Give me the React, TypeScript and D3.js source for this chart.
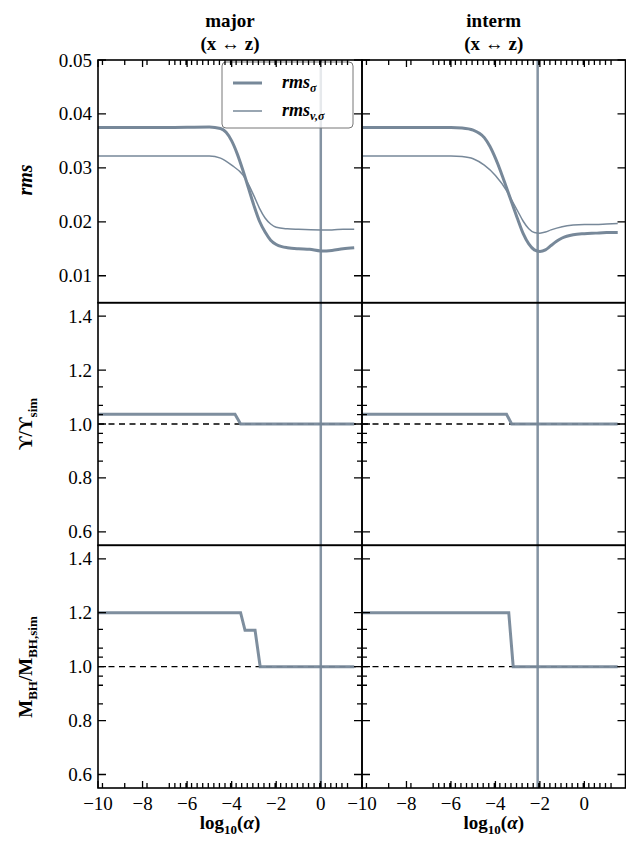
import React from "react";
import * as d3 from "d3";

// ---------- data ----------
const columnTitles = ["major", "interm"];
const columnSub = ["(x \u2194 z)", "(x \u2194 z)"];
const bestLogAlpha = [0, -2.1];

const xTickValues = [-10, -8, -6, -4, -2, 0];
const xTickLabels = ["\u221210", "\u22128", "\u22126", "\u22124", "\u22122", "0"];
const rmsTicks = [0.01, 0.02, 0.03, 0.04, 0.05];
const rmsTickLabels = ["0.01", "0.02", "0.03", "0.04", "0.05"];
const ratioTicks = [0.6, 0.8, 1.0, 1.2, 1.4];
const ratioTickLabels = ["0.6", "0.8", "1.0", "1.2", "1.4"];
const ratioMinorTicks = [0.862, 0.931, 0.965, 1.035, 1.069, 1.138];

// sampled log10(alpha) grid (minor ticks on top/bottom)
const alphaGrid = [-9.8, -8.8, -7.8, ...d3.range(-6.8, 1.21, 0.25)];

// top row: rms curves
const rmsSigmaX_major = [-10, -7, -5, -4.5, -4.25, -4.0, -3.75, -3.5, -3.25, -3.0, -2.75, -2.5, -2.25, -2.0, -1.75, -1.5, -1.0, -0.5, 0, 0.5, 1.0, 1.5];
const rmsSigmaY_major = [0.0375, 0.0375, 0.0376, 0.0373, 0.0366, 0.0350, 0.0326, 0.0296, 0.0263, 0.0230, 0.0201, 0.0181, 0.0166, 0.0158, 0.0154, 0.0152, 0.0150, 0.0149, 0.0146, 0.0147, 0.0150, 0.0152];
const rmsVX_major = [-10, -5, -4.5, -4.0, -3.5, -3.25, -3.0, -2.75, -2.5, -2.25, -2.0, -1.5, -1.0, 0, 0.5, 1.0, 1.5];
const rmsVY_major = [0.0322, 0.0322, 0.0318, 0.0305, 0.0287, 0.0270, 0.0248, 0.0225, 0.0207, 0.0196, 0.0190, 0.0187, 0.0186, 0.0185, 0.0185, 0.0186, 0.0186];

const rmsSigmaX_interm = [-10, -6, -5.5, -5.0, -4.5, -4.25, -4.0, -3.75, -3.5, -3.25, -3.0, -2.75, -2.5, -2.25, -2.0, -1.75, -1.5, -1.25, -1.0, -0.5, 0, 0.5, 1.0, 1.5];
const rmsSigmaY_interm = [0.0375, 0.0375, 0.0374, 0.0370, 0.0356, 0.0340, 0.0318, 0.0292, 0.0263, 0.0234, 0.0205, 0.0178, 0.0159, 0.0148, 0.0145, 0.0148, 0.0156, 0.0164, 0.0170, 0.0176, 0.0178, 0.0179, 0.0180, 0.0180];
const rmsVX_interm = [-10, -6, -5.5, -5.0, -4.5, -4.0, -3.5, -3.25, -3.0, -2.75, -2.5, -2.25, -2.0, -1.75, -1.5, -1.0, -0.5, 0, 0.5, 1.0, 1.5];
const rmsVY_interm = [0.0322, 0.0322, 0.0321, 0.0317, 0.0305, 0.0286, 0.0258, 0.0239, 0.0220, 0.0201, 0.0187, 0.0180, 0.0179, 0.0181, 0.0185, 0.0191, 0.0194, 0.0195, 0.0195, 0.0196, 0.0197];

// middle row: Upsilon ratio
const upsX_major = [-10, -3.85, -3.6, 1.5];
const upsY_major = [1.036, 1.036, 1.0, 1.0];
const upsX_interm = [-10, -3.5, -3.27, 1.5];
const upsY_interm = [1.036, 1.036, 1.0, 1.0];

// bottom row: M_BH ratio
const mbhX_major = [-10, -3.6, -3.4, -2.95, -2.72, 1.5];
const mbhY_major = [1.2, 1.2, 1.135, 1.135, 1.0, 1.0];
const mbhX_interm = [-10, -3.4, -3.2, 1.5];
const mbhY_interm = [1.2, 1.2, 1.0, 1.0];

// ---------- layout ----------
const COLOR = "#778899";
const FONT = "Liberation Serif, DejaVu Serif, serif";
const colX: [number, number][] = [[98, 362], [362, 625.5]];
const rowY: [number, number][] = [[60, 302.7], [302.7, 545.3], [545.3, 788]];
const xDomain: [number, number] = [-10, 1.85];
const rmsDomain: [number, number] = [0.005, 0.05];
const ratioDomain: [number, number] = [0.55, 1.45];

function zip(xs: number[], ys: number[]): [number, number][] {
  return xs.map((x, i) => [x, ys[i]]);
}

const txt = (size: number, extra: React.CSSProperties = {}): React.CSSProperties => ({
  fontFamily: FONT,
  fontSize: size,
  ...extra,
});

export default function App() {
  const xs = colX.map((c) => d3.scaleLinear().domain(xDomain).range(c));
  const ysTop = d3.scaleLinear().domain(rmsDomain).range([rowY[0][1], rowY[0][0]]);
  const ysMid = d3.scaleLinear().domain(ratioDomain).range([rowY[1][1], rowY[1][0]]);
  const ysBot = d3.scaleLinear().domain(ratioDomain).range([rowY[2][1], rowY[2][0]]);

  const topSeries = [
    { s: zip(rmsSigmaX_major, rmsSigmaY_major), v: zip(rmsVX_major, rmsVY_major) },
    { s: zip(rmsSigmaX_interm, rmsSigmaY_interm), v: zip(rmsVX_interm, rmsVY_interm) },
  ];
  const midSeries = [zip(upsX_major, upsY_major), zip(upsX_interm, upsY_interm)];
  const botSeries = [zip(mbhX_major, mbhY_major), zip(mbhX_interm, mbhY_interm)];

  const panels: any[] = [];
  const labels: any[] = [];
  const tickSegs: string[] = [];

  [0, 1].forEach((ci) => {
    const x = xs[ci];
    const [x0, x1] = colX[ci];
    const smooth = (y: any) =>
      d3.line<[number, number]>().x((d) => x(d[0])).y((d) => y(d[1])).curve(d3.curveMonotoneX);
    const lin = (y: any) =>
      d3.line<[number, number]>().x((d) => x(d[0])).y((d) => y(d[1]));

    [0, 1, 2].forEach((ri) => {
      const [y0, y1] = rowY[ri];
      const y = ri === 0 ? ysTop : ri === 1 ? ysMid : ysBot;
      const clipId = `clip-${ci}-${ri}`;
      const g: any[] = [];
      if (ri === 0) {
        g.push(<path key="v" d={smooth(y)(topSeries[ci].v) || ""} fill="none" stroke={COLOR} strokeWidth={1.5} />);
        g.push(<path key="s" d={smooth(y)(topSeries[ci].s) || ""} fill="none" stroke={COLOR} strokeWidth={3} />);
      } else {
        g.push(<line key="ref" x1={x0} x2={x1} y1={y(1)} y2={y(1)} stroke="#000" strokeWidth={1.3} strokeDasharray="6,4.5" />);
        const data = ri === 1 ? midSeries[ci] : botSeries[ci];
        g.push(<path key="d" d={lin(y)(data) || ""} fill="none" stroke={COLOR} strokeWidth={3} opacity={0.95} />);
      }
      panels.push(
        <g key={`p-${ci}-${ri}`}>
          <clipPath id={clipId}>
            <rect x={x0} y={y0} width={x1 - x0} height={y1 - y0} />
          </clipPath>
          <g clipPath={`url(#${clipId})`}>{g}</g>
        </g>
      );

      const majors = ri === 0 ? rmsTicks : ratioTicks;
      majors.forEach((t) => {
        const yy = Math.round(y(t) * 100) / 100;
        tickSegs.push(`M ${x0} ${yy} L ${x0 + 8} ${yy}`);
        tickSegs.push(`M ${x1} ${yy} L ${x1 - 8} ${yy}`);
      });
      if (ri > 0) {
        ratioMinorTicks.forEach((t) => {
          const yy = Math.round(y(t) * 100) / 100;
          tickSegs.push(`M ${x0} ${yy} L ${x0 + 5} ${yy}`);
          tickSegs.push(`M ${x1} ${yy} L ${x1 - 5} ${yy}`);
        });
      }
      if (ri === 0 || ri === 2) {
        const yy = ri === 0 ? y0 : y1;
        const dir = ri === 0 ? 1 : -1;
        alphaGrid.forEach((a) => {
          const xx = Math.round(x(a) * 100) / 100;
          tickSegs.push(`M ${xx} ${yy} L ${xx} ${yy + dir * 5}`);
        });
        xTickValues.forEach((a) => {
          const xx = Math.round(x(a) * 100) / 100;
          tickSegs.push(`M ${xx} ${yy} L ${xx} ${yy + dir * 7}`);
        });
      }
    });

    panels.push(
      <line key={`vl-${ci}`} x1={x(bestLogAlpha[ci])} x2={x(bestLogAlpha[ci])} y1={rowY[0][0]} y2={rowY[2][1]} stroke={COLOR} strokeWidth={2.5} opacity={0.9} />
    );

    xTickValues.forEach((a, i) => {
      labels.push(
        <text key={`xl-${ci}-${i}`} x={x(a)} y={810} textAnchor="middle" style={txt(19)}>
          {xTickLabels[i]}
        </text>
      );
    });
    labels.push(
      <text key={`xlab-${ci}`} x={(x0 + x1) / 2} y={829} textAnchor="middle" style={txt(19, { fontWeight: "bold" })}>
        log<tspan style={{ fontSize: 13 }} dy={5}>10</tspan><tspan dy={-5}>(</tspan><tspan style={{ fontStyle: "italic" }}>{"\u03b1"}</tspan>)
      </text>
    );
    labels.push(
      <text key={`t1-${ci}`} x={(x0 + x1) / 2} y={27} textAnchor="middle" style={txt(19, { fontWeight: "bold" })}>
        {columnTitles[ci]}
      </text>
    );
    labels.push(
      <text key={`t2-${ci}`} x={(x0 + x1) / 2} y={50} textAnchor="middle" style={txt(19, { fontWeight: "bold" })}>
        {columnSub[ci]}
      </text>
    );
  });

  const frames: any[] = [];
  [0, 1].forEach((ci) =>
    [0, 1, 2].forEach((ri) => {
      const [x0, x1] = colX[ci];
      const [y0, y1] = rowY[ri];
      frames.push(<rect key={`f${ci}${ri}`} x={x0} y={y0} width={x1 - x0} height={y1 - y0} fill="none" stroke="#000" strokeWidth={1.6} />);
    })
  );

  rmsTicks.forEach((t, i) =>
    labels.push(
      <text key={`yt0${i}`} x={92} y={ysTop(t) + 6.5} textAnchor="end" style={txt(19)}>
        {rmsTickLabels[i]}
      </text>
    )
  );
  [ysMid, ysBot].forEach((ys, k) =>
    ratioTicks.forEach((t, i) =>
      labels.push(
        <text key={`yt${k + 1}${i}`} x={92} y={ys(t) + 6.5} textAnchor="end" style={txt(19)}>
          {ratioTickLabels[i]}
        </text>
      )
    )
  );

  return (
    <svg width={626} height={842} style={{ position: "absolute", left: 0, top: 0 }}>
      <rect x={0} y={0} width={626} height={842} fill="#fff" />
      {panels}
      {frames}
      {labels}
      <text transform={`translate(32,180) rotate(-90)`} textAnchor="middle" style={txt(20, { fontWeight: "bold", fontStyle: "italic" })}>
        rms
      </text>
      <text transform={`translate(32,424) rotate(-90)`} textAnchor="middle" style={txt(19, { fontWeight: "bold" })}>
        {"\u03d2/\u03d2"}<tspan style={{ fontSize: 13 }} dy={5}>sim</tspan>
      </text>
      <text transform={`translate(32,667) rotate(-90)`} textAnchor="middle" style={txt(19, { fontWeight: "bold" })}>
        M<tspan style={{ fontSize: 13 }} dy={5}>BH</tspan><tspan dy={-5}>/M</tspan><tspan style={{ fontSize: 13 }} dy={5}>BH,sim</tspan>
      </text>
      <g>
        <rect x={222} y={62} width={131} height={66} rx={4} fill="#fff" fillOpacity={0.8} stroke="#777" strokeWidth={1} />
        <line x1={233} x2={262} y1={83} y2={83} stroke={COLOR} strokeWidth={3} />
        <line x1={233} x2={262} y1={111} y2={111} stroke={COLOR} strokeWidth={1.5} />
        <text x={282} y={88} style={txt(18, { fontStyle: "italic", fontWeight: "bold" })}>
          rms<tspan style={{ fontSize: 12 }} dy={4}>{"\u03c3"}</tspan>
        </text>
        <text x={282} y={116} style={txt(18, { fontStyle: "italic", fontWeight: "bold" })}>
          rms<tspan style={{ fontSize: 12 }} dy={4}>{"v,\u03c3"}</tspan>
        </text>
      </g>
      <path d={tickSegs.join(" ")} stroke="#000" strokeWidth={1.3} fill="none" />
    </svg>
  );
}
